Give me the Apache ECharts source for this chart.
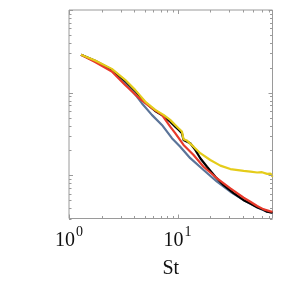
<!DOCTYPE html>
<html>
<head>
<meta charset="utf-8">
<script src="https://cdn.jsdelivr.net/npm/echarts@6/dist/echarts.min.js"></script>
<style>html,body{margin:0;padding:0;background:#fff;}#c{width:287px;height:282px;}</style>
</head>
<body>
<div id="c"></div>
<script>
// ---- data ----
const X_MIN = 1, X_MAX = 75;
const Y_MIN = 0.003, Y_MAX = 1;

const yellowSt  = [1.29, 1.74, 2.48, 3.29, 4.07, 5.03, 6.23, 7.43, 8.56, 9.52, 9.87, 10.21, 10.98, 11.36, 12.21, 14.05, 16.20, 20.04, 24.80, 30.67, 40.68, 47.0, 54.10, 60.0, 66.93, 72.0, 75];
const yellowVal = [0.287, 0.245, 0.194, 0.143, 0.108, 0.078, 0.0619, 0.0538, 0.0468, 0.0407, 0.0388, 0.0371, 0.0338, 0.0273, 0.0263, 0.0222, 0.0185, 0.0153, 0.0131, 0.0119, 0.0113, 0.0111, 0.0108, 0.0109, 0.0104, 0.0105, 0.0096];

const blackSt  = [1.29, 1.74, 2.48, 3.29, 4.07, 5.03, 6.23, 7.43, 8.56, 9.52, 10.21, 10.98, 11.36, 13.10, 14.57, 16.20, 18.69, 22.29, 26.60, 32.89, 40.68, 47.0, 54.10, 62.0, 66.93, 75];
const blackVal = [0.287, 0.243, 0.190, 0.139, 0.105, 0.076, 0.060, 0.052, 0.0446, 0.0388, 0.0355, 0.0323, 0.0268, 0.0244, 0.0203, 0.0161, 0.0127, 0.0096, 0.0076, 0.0061, 0.0050, 0.00455, 0.0041, 0.00383, 0.00362, 0.00352];

const redSt  = [1.29, 1.74, 2.48, 3.29, 4.36, 5.80, 7.18, 8.56, 9.52, 9.87, 11.36, 14.05, 17.38, 23.11, 30.67, 40.68, 46.9, 54.10, 62.25, 71.8, 75];
const redVal = [0.287, 0.234, 0.180, 0.124, 0.0872, 0.0649, 0.0538, 0.0388, 0.0323, 0.0308, 0.0233, 0.0176, 0.0127, 0.0092, 0.00696, 0.00535, 0.00479, 0.00425, 0.00387, 0.00366, 0.00362];

const blueSt  = [1.29, 1.74, 2.48, 3.29, 4.22, 4.69, 5.80, 7.18, 8.88, 10.59, 13.10, 17.38, 23.11, 30.67, 40.68, 46.9, 54.10, 62.25, 66.93, 75];
const blueVal = [0.287, 0.240, 0.188, 0.130, 0.0897, 0.0746, 0.0538, 0.0407, 0.0281, 0.0222, 0.0161, 0.0116, 0.00836, 0.00633, 0.00502, 0.00452, 0.00409, 0.00378, 0.00362, 0.00352];

const xTickValues = [1, 2, 3, 4, 5, 6, 7, 8, 9, 10, 20, 30, 40, 50, 60, 70];
const yTickValues = [0.003, 0.004, 0.005, 0.006, 0.007, 0.008, 0.009, 0.01, 0.02, 0.03, 0.04, 0.05, 0.06, 0.07, 0.08, 0.09, 0.1, 0.2, 0.3, 0.4, 0.5, 0.6, 0.7, 0.8, 0.9, 1];
const xLabelValues = [1, 10];

// ---- helpers ----
const zip = (xs, ys) => xs.map((x, i) => [x, ys[i]]);
const isMajor = v => Math.abs(Math.log10(v) - Math.round(Math.log10(v))) < 1e-9;
const FRAME = '#9a9a9a';
const SERIF = '"Liberation Serif","Times New Roman",serif';

function lineSeries(name, data, color, z) {
  return { name, type: 'line', data, showSymbol: false, symbol: 'none', z,
    lineStyle: { color, width: 2.2 }, silent: true };
}

const chart = echarts.init(document.getElementById('c'), null, { renderer: 'canvas' });
chart.setOption({
  animation: false,
  backgroundColor: '#fff',
  grid: { left: 69, right: 14.5, top: 10, bottom: 63.5, show: true, borderColor: FRAME, borderWidth: 1,
          backgroundColor: 'transparent', containLabel: false, outerBoundsMode: 'none' },
  xAxis: {
    type: 'log', logBase: 10, min: X_MIN, max: X_MAX,
    axisLine: { show: false }, axisTick: { show: false }, splitLine: { show: false },
    axisLabel: {
      margin: 12, fontFamily: SERIF, color: '#111', showMinLabel: true, showMaxLabel: false,
      formatter: v => {
        const e = Math.log10(v);
        if (Math.abs(e - Math.round(e)) > 1e-6) return '';
        if (!xLabelValues.some(t => Math.abs(t - v) < 1e-6)) return '';
        return '{a|10}{b|' + Math.round(e) + '}';
      },
      rich: {
        a: { fontSize: 20, fontFamily: SERIF, color: '#111', lineHeight: 20, verticalAlign: 'bottom' },
        b: { fontSize: 14, fontFamily: SERIF, color: '#111', lineHeight: 14, verticalAlign: 'bottom', padding: [0, 0, 11, 1] }
      }
    },
    name: 'St', nameLocation: 'middle', nameGap: 40,
    nameTextStyle: { fontSize: 20, fontFamily: SERIF, color: '#111' }
  },
  yAxis: {
    type: 'log', logBase: 10, min: Y_MIN, max: Y_MAX,
    axisLine: { show: false }, axisTick: { show: false }, splitLine: { show: false },
    axisLabel: { show: false }
  },
  series: [
    {
      type: 'custom', name: 'xticks', silent: true, z: 10,
      data: xTickValues.map(v => [v, Y_MIN]),
      renderItem: (params, api) => {
        const v = api.value(0);
        const pb = api.coord([v, Y_MIN]);
        const pt = api.coord([v, Y_MAX]);
        const L = isMajor(v) ? 4 : 2.5;
        const x = Math.round(pb[0]) + 0.5;
        return { type: 'group', children: [
          { type: 'line', shape: { x1: x, y1: pb[1], x2: x, y2: pb[1] - L }, style: { stroke: FRAME, lineWidth: 1 } },
          { type: 'line', shape: { x1: x, y1: pt[1], x2: x, y2: pt[1] + L }, style: { stroke: FRAME, lineWidth: 1 } }
        ]};
      }
    },
    {
      type: 'custom', name: 'yticks', silent: true, z: 10,
      data: yTickValues.map(v => [X_MIN, v]),
      renderItem: (params, api) => {
        const v = api.value(1);
        const pl = api.coord([X_MIN, v]);
        const pr = api.coord([X_MAX, v]);
        const L = isMajor(v) ? 4 : 2.5;
        const y = Math.round(pl[1]) + 0.5;
        return { type: 'group', children: [
          { type: 'line', shape: { x1: pl[0], y1: y, x2: pl[0] + L, y2: y }, style: { stroke: FRAME, lineWidth: 1 } },
          { type: 'line', shape: { x1: pr[0], y1: y, x2: pr[0] - L, y2: y }, style: { stroke: FRAME, lineWidth: 1 } }
        ]};
      }
    },
    lineSeries('blue', zip(blueSt, blueVal), '#5b7499', 2),
    lineSeries('black', zip(blackSt, blackVal), '#000000', 3),
    lineSeries('red', zip(redSt, redVal), '#e8392a', 4),
    lineSeries('yellow', zip(yellowSt, yellowVal), '#e5cc1a', 5)
  ]
});
</script>
</body>
</html>
